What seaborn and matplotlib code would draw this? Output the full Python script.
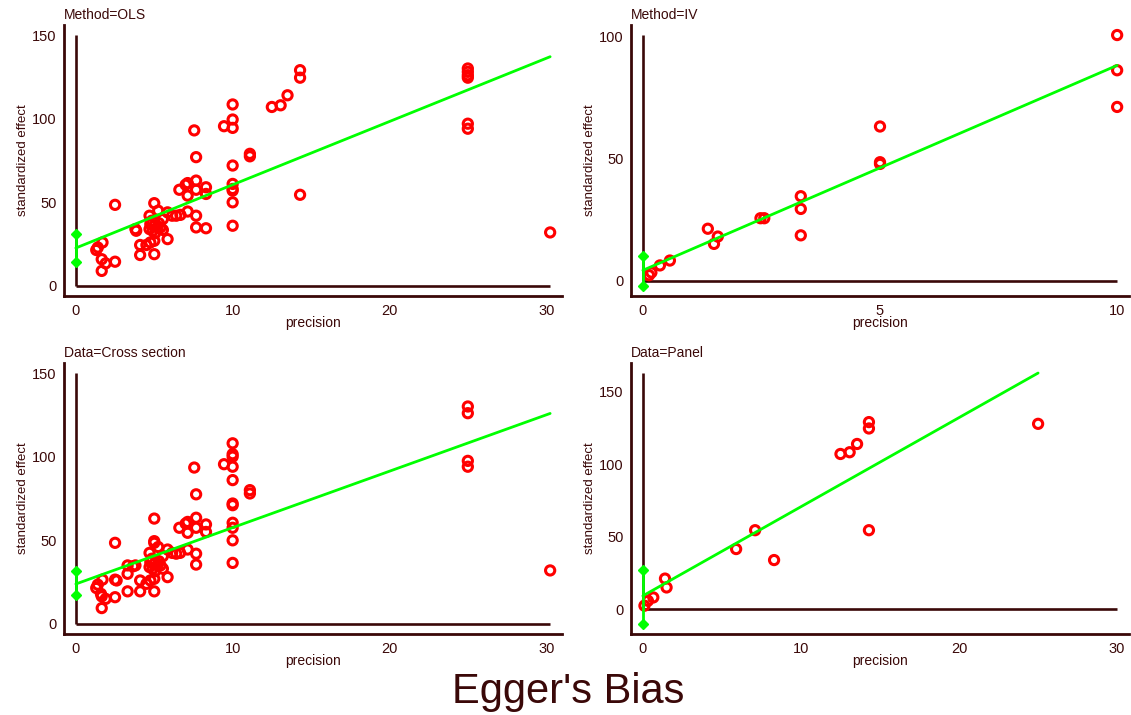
# Egger's bias: standardized effect vs precision, four subsamples
import matplotlib
matplotlib.use('Agg')
import matplotlib.pyplot as plt
import numpy as np
import seaborn as sns

# Data
panel_titles = ['Method=OLS', 'Method=IV', 'Data=Cross section', 'Data=Panel']

ols_x = [30.25, 25, 25, 25, 25, 25, 25, 14.3, 14.3, 14.3, 13.5, 13.06, 12.5,
         10, 10, 10, 9.45, 10, 10, 10, 10, 10, 10, 11.1, 11.1,
         7.55, 7.67, 7.67, 7.67, 7.67, 7.67, 8.3, 8.3, 8.3,
         7.13, 7.0, 6.6, 7.13, 7.13, 6.67, 6.14, 6.4, 5.85, 5.85, 5.55, 5.55, 5.25, 5.0, 4.7,
         4.75, 5.0, 5.2, 4.9, 5.05, 4.7, 5.3, 4.85, 5.4,
         5.0, 4.75, 4.5, 5.0, 4.1, 4.1, 3.8, 3.85,
         2.5, 2.5, 1.7, 1.4, 1.3, 1.65, 1.9, 1.65]
ols_y = [32, 130, 128, 126, 124.5, 97, 94, 129, 124.5, 54.5, 114, 108, 107,
         108.5, 99.5, 94.5, 95.5, 72, 61, 58, 57, 50, 36, 79, 77.5,
         93, 77, 63, 57.5, 42, 35, 59, 55, 34.5,
         61.5, 60.5, 57.5, 54, 44.5, 42.5, 42, 42, 44, 28, 40, 33.5, 45, 49.5, 42,
         37, 36, 35, 33, 31.5, 34, 37.5, 39, 35,
         27, 26, 24.5, 19, 24.5, 18.5, 34, 33,
         48.5, 14.5, 26, 23, 21.5, 16, 13.5, 9]

iv_x = [10, 10, 10, 5, 5, 5, 3.33, 3.33, 3.33, 2.48, 2.56, 1.37, 1.58, 1.5,
        0.57, 0.36, 0.18, 0.13]
iv_y = [100.4, 86, 71, 63, 48.4, 47.7, 34.5, 29.3, 18.5, 25.5, 25.5, 21.2, 18, 15,
        8.2, 6.2, 3.3, 2.2]

cross_x = [30.25, 25, 25, 25, 25,
           10, 10, 10, 9.45, 10, 10, 10, 10, 10, 10, 10, 10, 11.1, 11.1,
           7.55, 7.67, 7.67, 7.67, 7.67, 7.67, 8.3, 8.3,
           7.13, 7.0, 6.6, 7.13, 7.13, 6.65, 6.14, 6.4, 5.85, 5.85, 5.55, 5.55, 5.25,
           5.0, 5.0, 5.0, 4.7,
           4.75, 5.0, 5.2, 4.9, 5.05, 4.7, 5.3, 4.85, 5.4,
           5.0, 4.75, 4.5, 5.0, 4.1, 4.1, 3.8, 3.65, 3.3, 3.3, 3.3,
           2.5, 2.5, 2.6, 2.5, 1.7, 1.4, 1.3, 1.6, 1.65, 1.9, 1.65]
cross_y = [32, 130, 126, 97.5, 94,
           108, 101.5, 100, 95.5, 94, 86, 72, 71, 60.5, 57.5, 50, 36.5, 80, 78,
           93.5, 77.5, 63.5, 57.5, 42, 35.5, 59.5, 55,
           61, 60, 57.5, 54.5, 44.5, 42.5, 42.5, 42, 44.5, 28, 40.5, 33, 46,
           63, 49.5, 48.5, 42.5,
           37, 36, 35, 33, 31.5, 34, 37.5, 39, 35,
           27, 26, 24, 19.5, 26, 19.5, 35, 34.5, 35, 30, 19.5,
           48.5, 26.5, 26, 16, 26.5, 23.5, 21.5, 18, 16.5, 15, 9.5]

pan_x = [25, 14.3, 14.3, 13.55, 13.08, 12.5, 14.3, 7.1, 5.9, 8.3, 1.4, 1.5, 0.66, 0.32, 0.1]
pan_y = [127.8, 129, 124.6, 113.9, 108.2, 107, 54.4, 54.4, 41.4, 33.8, 21, 14.9, 8, 5.7, 2.3]

# fitted line (intercept, slope) and CI of intercept
fit_const = [22.7, 4.2, 23.9, 9.1]
fit_slope = [3.78, 8.38, 3.37, 6.15]
ci_low = [14.2, -2.2, 17.3, -10.3]
ci_high = [31.2, 9.9, 31.4, 27.0]

x_ticks = [[0, 10, 20, 30], [0, 5, 10], [0, 10, 20, 30], [0, 10, 20, 30]]
y_ticks = [[0, 50, 100, 150], [0, 50, 100], [0, 50, 100, 150], [0, 50, 100, 150]]

xs = [ols_x, iv_x, cross_x, pan_x]
ys = [ols_y, iv_y, cross_y, pan_y]

# Style
sns.set_style('white')
plt.rcParams['font.family'] = ['Liberation Sans', 'DejaVu Sans']
brown = '#3a0808'
green = '#00ff00'

fig = plt.figure(figsize=(11.31, 7.15), dpi=100)
W, H = 1131, 715
boxes = [(64, 25), (631, 25), (64, 363), (631, 363)]  # left, top in px
aw, ah = 498, 271

for i in range(4):
    l, t = boxes[i]
    ax = fig.add_axes([l / W, 1 - (t + ah) / H, aw / W, ah / H])
    x = np.array(xs[i])
    y = np.array(ys[i])
    xmax = x.max()
    line_x = np.array([0, xmax])
    line_y = fit_const[i] + fit_slope[i] * line_x

    # extent of the plotted region
    x_right = max(xmax, x_ticks[i][-1])
    y_top = max(y.max(), line_y.max(), y_ticks[i][-1])
    y_bot = min(0, ci_low[i], y.min())
    xr = x_right - 0
    yr = y_top - y_bot
    ax.set_xlim(-0.025 * xr, x_right + 0.025 * xr)
    ax.set_ylim(y_bot - 0.04 * yr, y_top + 0.04 * yr)

    # reference lines at 0
    ax.plot([0, 0], [0, y_top], color=brown, lw=1.9, zorder=1, solid_capstyle='butt')
    ax.plot([0, x_right], [0, 0], color=brown, lw=1.9, zorder=1, solid_capstyle='butt')

    sns.scatterplot(x=x, y=y, ax=ax, marker='o', s=44, facecolor='none',
                    edgecolor='red', linewidth=2.2, zorder=3)
    sns.lineplot(x=line_x, y=line_y, ax=ax, color=green, lw=2.0, zorder=4)
    ax.plot([0, 0], [ci_low[i], ci_high[i]], color=green, lw=2.0, marker='D',
            ms=5, zorder=5)

    for s in ['top', 'right']:
        ax.spines[s].set_visible(False)
    for s in ['left', 'bottom']:
        ax.spines[s].set_color(brown)
        ax.spines[s].set_linewidth(2.0)
    ax.set_xticks(x_ticks[i])
    ax.set_yticks(y_ticks[i])
    ax.tick_params(axis='both', direction='out', length=4, width=2.0, color=brown,
                   labelcolor=brown, labelsize=10.5, pad=1.5)
    ax.set_xlabel('precision', color=brown, fontsize=10, labelpad=-1)
    ax.set_ylabel('standardized effect', color=brown, fontsize=9.5, labelpad=2)
    ax.set_title(panel_titles[i], loc='left', color=brown, fontsize=10, pad=4)
    ax.grid(False)

fig.text(0.502, 1 - 692 / H, "Egger's Bias", ha='center', va='center',
         fontsize=30, color=brown)

fig.savefig('out.png', dpi=100)
